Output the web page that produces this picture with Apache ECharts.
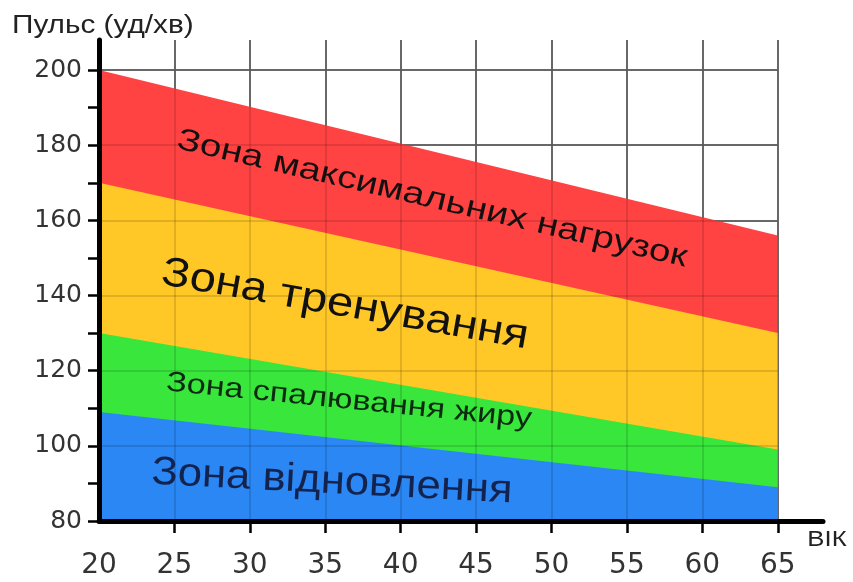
<!DOCTYPE html>
<html>
<head>
<meta charset="utf-8">
<script src="https://cdn.jsdelivr.net/npm/echarts@6/dist/echarts.min.js"></script>
<style>
  html, body { margin: 0; padding: 0; background: #fff; }
  #main { width: 853px; height: 582px; }
</style>
</head>
<body>
<div id="main"></div>
<script>
// ages at both ends of the zones
var ages = [20, 65];
// upper edge of every zone, beats per minute
var recoveryTop = [109, 89];
var fatBurnTop = [130, 99];
var trainingTop = [170, 130];
var maxLoadTop = [200, 156];

var yTickValues = [80, 90, 100, 110, 120, 130, 140, 150, 160, 170, 180, 190, 200];
var yLabelValues = [80, 100, 120, 140, 160, 180, 200];
var xLabelValues = [20, 25, 30, 35, 40, 45, 50, 55, 60, 65];
var xTickValues = [25, 30, 35, 40, 45, 50, 55, 60, 65];
var hGridValues = [100, 120, 140, 160, 180, 200];
var vGridValues = [25, 30, 35, 40, 45, 50, 55, 60, 65];

var zoneNames = ["Зона відновлення", "Зона спалювання жиру", "Зона тренування", "Зона максимальних нагрузок"];
var zoneColors = ["#2a87f4", "#38e63c", "#ffc826", "#ff4343"];

var chart = echarts.init(document.getElementById("main"));

// every zone is filled down to the axis, the lower zones are painted over the upper ones
var tops = [recoveryTop, fatBurnTop, trainingTop, maxLoadTop];
var bandSeries = tops.map(function (top, k) {
  return {
    name: zoneNames[k],
    type: "line",
    symbol: "none",
    silent: true,
    z: 6 - k,
    lineStyle: { width: 0 },
    areaStyle: { color: zoneColors[k], opacity: 1, origin: "start" },
    data: ages.map(function (a, i) { return [a, top[i]]; })
  };
});

var gridLines = [];
hGridValues.forEach(function (v) {
  gridLines.push([{ coord: [ages[0], v] }, { coord: [ages[1], v] }]);
});
vGridValues.forEach(function (v) {
  gridLines.push([{ coord: [v, 80] }, { coord: [v, 208] }]);
});

function gridSeries(color, z) {
  return {
    type: "line",
    data: [],
    silent: true,
    z: z,
    markLine: {
      z: z,
      symbol: "none",
      silent: true,
      label: { show: false },
      lineStyle: { color: color, width: 2, type: "solid" },
      data: gridLines
    }
  };
}

var lineFont = "Liberation Sans";

var option = {
  animation: false,
  backgroundColor: "#fff",
  grid: { left: 99, right: 30, top: 40, bottom: 61 },
  xAxis: {
    type: "value",
    min: 20,
    max: 68,
    z: 10,
    axisLine: { onZero: false, lineStyle: { color: "#000", width: 5 } },
    axisTick: { customValues: xTickValues, length: 12, lineStyle: { color: "#000", width: 2.5 } },
    axisLabel: { customValues: xLabelValues, margin: 31, fontSize: 28, fontFamily: "DejaVu Sans", color: "#333" },
    splitLine: { show: false }
  },
  yAxis: {
    type: "value",
    min: 80,
    max: 208,
    z: 10,
    axisLine: { onZero: false, lineStyle: { color: "#000", width: 5 } },
    axisTick: { customValues: yTickValues, length: 11, lineStyle: { color: "#000", width: 2.5 } },
    axisLabel: { customValues: yLabelValues, margin: 17, fontSize: 25, fontFamily: "DejaVu Sans", color: "#333" },
    splitLine: { show: false }
  },
  series: [gridSeries("#777777", 1)].concat(bandSeries, [gridSeries("rgba(0,0,0,0.12)", 8)]),
  graphic: [
    { type: "text", left: 12, top: 14, style: { text: "Пульс (уд/хв)", fontSize: 25, fontFamily: lineFont, fill: "#222" }, scaleX: 1.19 },
    { type: "text", x: 827, y: 540, style: { text: "\u0412\u0406\u041A", fontSize: 22, fontFamily: lineFont, fill: "#222", align: "center", verticalAlign: "middle" }, scaleX: 1.17 },
    { type: "text", x: 432, y: 199, rotation: -0.229, scaleX: 1.25, z: 20,
      style: { text: zoneNames[3], fontSize: 31, fontFamily: lineFont, fill: "#151010", align: "center", verticalAlign: "middle" } },
    { type: "text", x: 345, y: 305, rotation: -0.175, scaleX: 1.15, z: 20,
      style: { text: zoneNames[2], fontSize: 41, fontFamily: lineFont, fill: "#111", align: "center", verticalAlign: "middle" } },
    { type: "text", x: 349, y: 401, rotation: -0.1, scaleX: 1.22, z: 20,
      style: { text: zoneNames[1], fontSize: 28, fontFamily: lineFont, fill: "#0c2a10", align: "center", verticalAlign: "middle" } },
    { type: "text", x: 332, y: 482, rotation: -0.052, scaleX: 1.09, z: 20,
      style: { text: zoneNames[0], fontSize: 40, fontFamily: lineFont, fill: "#14234d", align: "center", verticalAlign: "middle" } }
  ]
};

chart.setOption(option);
</script>
</body>
</html>
